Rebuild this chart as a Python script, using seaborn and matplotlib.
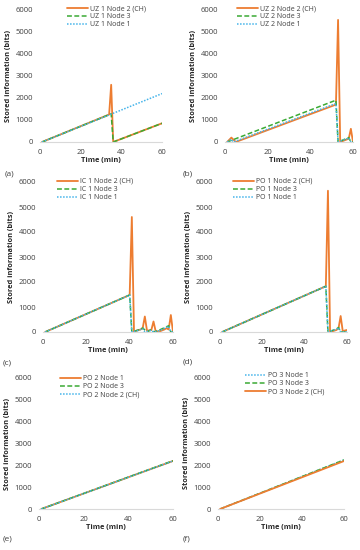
import numpy as np
import pandas as pd
import seaborn as sns
import matplotlib.pyplot as plt

# ---- data (time in min, stored bits) ----
# (a) UZ 1
uz1_ch_t = [1, 34, 35, 36, 60]
uz1_ch_v = [0, 1250, 2600, 0, 850]
uz1_n3_t = [1, 35, 36, 60]
uz1_n3_v = [0, 1280, 0, 850]
uz1_n1_t = [1, 60]
uz1_n1_v = [0, 2200]

# (b) UZ 2
uz2_ch_t = [1, 3, 5, 52, 53, 54, 58, 59, 60]
uz2_ch_v = [0, 200, 0, 1700, 5550, 0, 150, 600, 0]
uz2_n3_t = [1, 52, 53, 58, 59, 60]
uz2_n3_v = [0, 1900, 0, 200, 0, 0]
uz2_n1_t = [1, 3, 4, 52, 53, 58, 59, 60]
uz2_n1_v = [0, 120, 0, 1750, 0, 180, 0, 0]

# (c) IC 1
ic1_ch_t = [1, 40, 41, 42, 43, 45, 46, 47, 48, 50, 51, 52, 54, 56, 57, 58, 59, 60]
ic1_ch_v = [0, 1480, 4600, 0, 50, 100, 150, 620, 50, 80, 420, 30, 30, 100, 150, 100, 680, 0]
ic1_n3_t = [1, 40, 41, 44, 46, 48, 50, 51, 53, 58, 59, 60]
ic1_n3_v = [0, 1480, 0, 80, 160, 0, 100, 0, 50, 250, 0, 0]
ic1_n1_t = [1, 40, 41, 44, 46, 47, 50, 51, 54, 58, 59, 60]
ic1_n1_v = [0, 1480, 0, 60, 140, 0, 70, 0, 60, 230, 0, 0]

# (d) PO 1
po1_ch_t = [1, 50, 51, 52, 55, 56, 57, 58, 59, 60]
po1_ch_v = [0, 1830, 5650, 0, 80, 150, 640, 30, 60, 80]
po1_n3_t = [1, 50, 51, 55, 56, 57, 60]
po1_n3_v = [0, 1830, 0, 120, 180, 0, 0]
po1_n1_t = [1, 50, 51, 55, 56, 57, 60]
po1_n1_v = [0, 1830, 0, 110, 170, 0, 0]

# (e) PO 2
po2_t = [1, 60]
po2_n1_v = [0, 2200]
po2_n3_v = [0, 2210]
po2_ch_v = [0, 2200]

# (f) PO 3
po3_t = [1, 60]
po3_n1_v = [0, 2230]
po3_n3_v = [0, 2230]
po3_ch_v = [0, 2180]

ORANGE = "#ED7D31"
GREEN = "#3BAA34"
BLUE = "#45B4EA"

styles = {
    "solid": dict(color=ORANGE, linestyle="-", linewidth=1.3),
    "dash": dict(color=GREEN, linestyle=(0, (3.2, 1.6)), linewidth=1.1),
    "dot": dict(color=BLUE, linestyle=(0, (1.0, 1.0)), linewidth=1.1),
}

# panel boxes in pixels: left, right, top, bottom ; legend anchor ; letter pos
panels = [
    ("(a)", (40, 162, 10, 142), (67, 5), (5, 174),
     [("UZ 1 Node 2 (CH)", uz1_ch_t, uz1_ch_v, "solid"),
      ("UZ 1 Node 3", uz1_n3_t, uz1_n3_v, "dash"),
      ("UZ 1 Node 1", uz1_n1_t, uz1_n1_v, "dot")]),
    ("(b)", (225, 353, 10, 142), (237, 5), (183, 174),
     [("UZ 2 Node 2 (CH)", uz2_ch_t, uz2_ch_v, "solid"),
      ("UZ 2 Node 3", uz2_n3_t, uz2_n3_v, "dash"),
      ("UZ 2 Node 1", uz2_n1_t, uz2_n1_v, "dot")]),
    ("(c)", (43, 173, 182, 332), (57, 178), (3, 363),
     [("IC 1 Node 2 (CH)", ic1_ch_t, ic1_ch_v, "solid"),
      ("IC 1 Node 3", ic1_n3_t, ic1_n3_v, "dash"),
      ("IC 1 Node 1", ic1_n1_t, ic1_n1_v, "dot")]),
    ("(d)", (220, 347, 182, 332), (233, 178), (183, 362),
     [("PO 1 Node 2 (CH)", po1_ch_t, po1_ch_v, "solid"),
      ("PO 1 Node 3", po1_n3_t, po1_n3_v, "dash"),
      ("PO 1 Node 1", po1_n1_t, po1_n1_v, "dot")]),
    ("(e)", (39, 173, 378, 509), (60, 375), (3, 539),
     [("PO 2 Node 1", po2_t, po2_n1_v, "solid"),
      ("PO 2 Node 3", po2_t, po2_n3_v, "dash"),
      ("PO 2 Node 2 (CH)", po2_t, po2_ch_v, "dot")]),
    ("(f)", (218, 344, 377, 509), (245, 372), (183, 539),
     [("PO 3 Node 1", po3_t, po3_n1_v, "dot"),
      ("PO 3 Node 3", po3_t, po3_n3_v, "dash"),
      ("PO 3 Node 2 (CH)", po3_t, po3_ch_v, "solid")]),
]

sns.set_style("white")
plt.rcParams["font.family"] = ["Open Sans", "DejaVu Sans"]

W, H = 360, 550
fig = plt.figure(figsize=(W / 100, H / 100), dpi=100)

for letter, (l, r, t, b), (lx, ly), (px, py), series in panels:
    ax = fig.add_axes([l / W, 1 - b / H, (r - l) / W, (b - t) / H])
    for name, tt, vv, st in series:
        df = pd.DataFrame({"Time (min)": tt, "bits": vv})
        sns.lineplot(data=df, x="Time (min)", y="bits", ax=ax, label=name,
                     **styles[st])
    ax.set_xlim(0, 60)
    ax.set_ylim(0, 6000)
    ax.set_xticks([0, 20, 40, 60])
    ax.set_yticks(np.arange(0, 6001, 1000))
    ax.tick_params(labelsize=5.5, length=0, pad=5, colors="#404040")
    for s in ["top", "right", "left"]:
        ax.spines[s].set_visible(False)
    ax.spines["bottom"].set_color("#d9d9d9")
    ax.spines["bottom"].set_linewidth(0.8)
    ax.set_xlabel("Time (min)", fontsize=5.3, fontweight="bold", labelpad=1,
                  color="#262626")
    ax.set_ylabel("Stored information (bits)", fontsize=5.3, fontweight="bold",
                  labelpad=2.5, color="#262626")
    ax.legend(loc="upper left", bbox_to_anchor=(lx / W, 1 - ly / H),
              bbox_transform=fig.transFigure, frameon=False, fontsize=5.0,
              handlelength=3.0, handletextpad=0.3, labelspacing=0.15,
              borderpad=0, borderaxespad=0, labelcolor="#404040")
    fig.text(px / W, 1 - py / H, letter, fontsize=6, color="#404040",
             va="center", ha="left")

fig.savefig("out.png", dpi=100)
